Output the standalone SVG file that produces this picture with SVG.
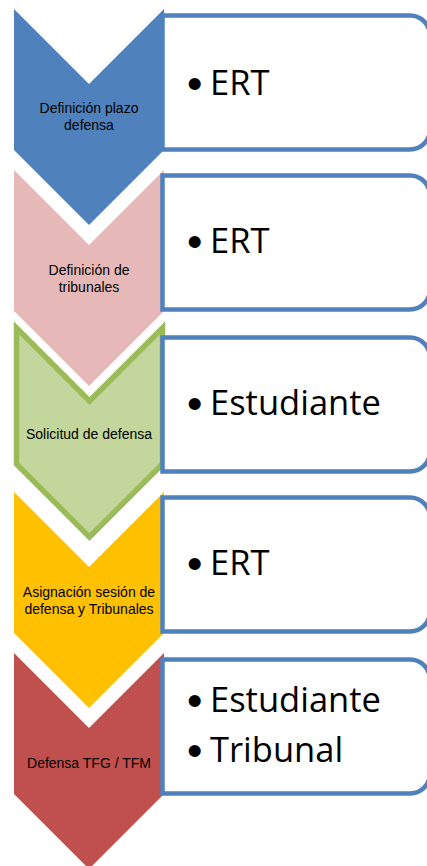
<svg xmlns="http://www.w3.org/2000/svg" width="427" height="866" viewBox="0 0 427 866">
  <style>
    .lbl { font-family: "Liberation Sans", Arial, sans-serif; font-size: 14px; fill: #000; text-anchor: middle; }
    .big { font-family: "Open Sans", "Noto Sans", "Liberation Sans", sans-serif; font-size: 34.5px; fill: #000; }
    .bul { font-family: "Liberation Sans", Arial, sans-serif; font-size: 44px; fill: #000; }
    .box { fill: #fff; stroke: #4F81BD; stroke-width: 4.5; }
  </style>
  <defs>
    <path id="boxshape" d="M162.5,0 H410 A20,20 0 0 1 430,20 V114 A20,20 0 0 1 410,134 H162.5 Z"/>
  </defs>
  <rect width="427" height="866" fill="#fff"/>

  <g id="step1">
    <polygon points="14,9 89,84 164,9 164,150 89,225 14,150" fill="#4F81BD"/>
    <text class="lbl" x="89" y="113">Definición plazo</text>
    <text class="lbl" x="89" y="130">defensa</text>
  </g>
  <g id="step2">
    <polygon points="14,170 89,245 164,170 164,311 89,386 14,311" fill="#E6B9B8"/>
    <text class="lbl" x="89" y="275">Definición de</text>
    <text class="lbl" x="89" y="292">tribunales</text>
  </g>
  <g id="step3">
    <polygon points="16.5,328 89.5,401 162.5,328 162.5,464 89.5,537 16.5,464" fill="#C3D69B" stroke="#9BBB59" stroke-width="5.5"/>
    <text class="lbl" x="89" y="439">Solicitud de defensa</text>
  </g>
  <g id="step4">
    <polygon points="14,492 89,567 164,492 164,633 89,708 14,633" fill="#FFC000"/>
    <text class="lbl" x="89" y="597">Asignación sesión de</text>
    <text class="lbl" x="89" y="614">defensa y Tribunales</text>
  </g>
  <g id="step5">
    <polygon points="14,653 89,728 164,653 164,794 89,869 14,794" fill="#C0504D"/>
    <text class="lbl" x="89" y="768">Defensa TFG / TFM</text>
  </g>

  <g id="box1" transform="translate(0,15.5)">
    <use href="#boxshape" class="box"/>
    <text class="bul" x="187" y="83">•</text>
    <text class="big" x="210" y="79.5">ERT</text>
  </g>
  <g id="box2" transform="translate(0,175.5)">
    <use href="#boxshape" class="box"/>
    <text class="bul" x="187" y="81">•</text>
    <text class="big" x="210" y="77.5">ERT</text>
  </g>
  <g id="box3" transform="translate(0,337.5)">
    <use href="#boxshape" class="box"/>
    <text class="bul" x="187" y="81">•</text>
    <text class="big" x="210" y="77.5">Estudiante</text>
  </g>
  <g id="box4" transform="translate(0,497.5)">
    <use href="#boxshape" class="box"/>
    <text class="bul" x="187" y="81">•</text>
    <text class="big" x="210" y="77.5">ERT</text>
  </g>
  <g id="box5" transform="translate(0,659.5)">
    <use href="#boxshape" class="box"/>
    <text class="bul" x="187" y="56">•</text>
    <text class="big" x="210" y="52.5">Estudiante</text>
    <text class="bul" x="187" y="106">•</text>
    <text class="big" x="210" y="102.5">Tribunal</text>
  </g>
</svg>
